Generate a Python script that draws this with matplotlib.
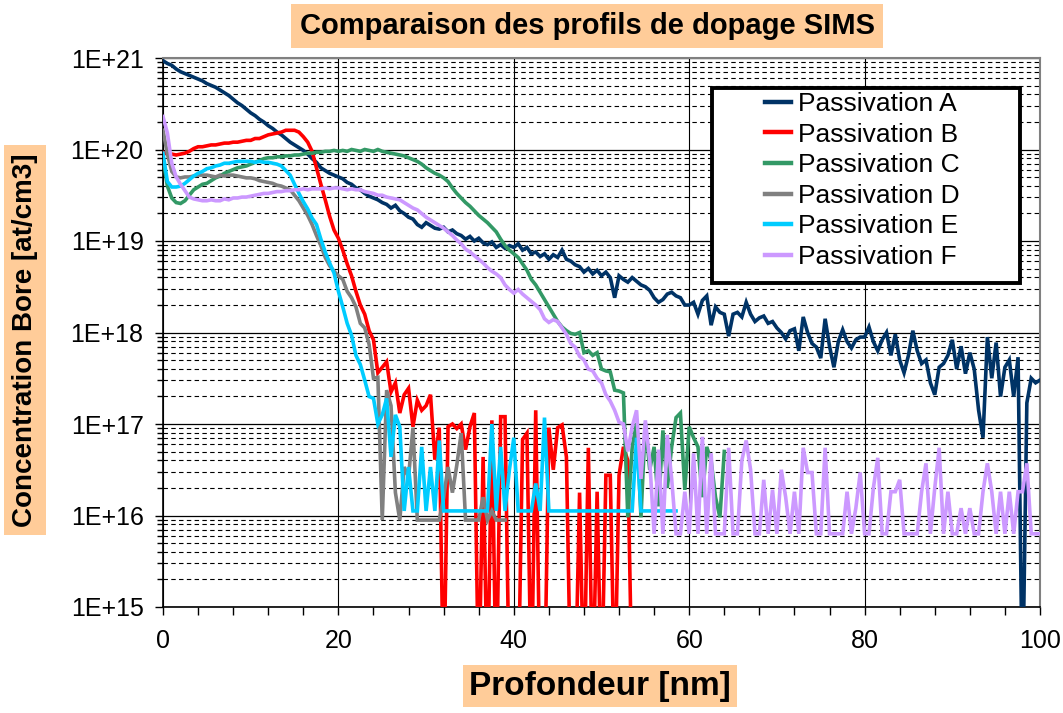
import numpy as np
import matplotlib
matplotlib.use("Agg")
import matplotlib.pyplot as plt
from matplotlib.patches import Rectangle
from matplotlib.ticker import LogLocator, FuncFormatter, MultipleLocator, NullFormatter

plt.rcParams['font.family'] = ['Liberation Sans', 'DejaVu Sans']

# depth step of the SIMS profiles (nm)
DEPTH_STEP = 0.5

LABELS = ["Passivation A", "Passivation B", "Passivation C",
          "Passivation D", "Passivation E", "Passivation F"]
COLORS = ["#003366", "#FF0000", "#339966", "#808080", "#00CCFF", "#CC99FF"]

# log10 of boron concentration [at/cm3], one value per 0.5 nm
# (14.0 = zero count, drawn below the axis floor)
LOG_A = [
    20.97, 20.94, 20.92, 20.88, 20.85, 20.83, 20.81, 20.79, 20.77, 20.75,
    20.72, 20.70, 20.68, 20.65, 20.62, 20.59, 20.55, 20.51, 20.48, 20.44,
    20.40, 20.37, 20.33, 20.30, 20.26, 20.23, 20.19, 20.16, 20.12, 20.08,
    20.05, 20.02, 19.99, 19.95, 19.90, 19.86, 19.80, 19.77, 19.74, 19.72,
    19.70, 19.68, 19.64, 19.62, 19.58, 19.56, 19.52, 19.49, 19.47, 19.45,
    19.42, 19.40, 19.36, 19.39, 19.33, 19.30, 19.26, 19.24, 19.18, 19.15,
    19.20, 19.17, 19.14, 19.13, 19.15, 19.10, 19.12, 19.08, 19.06, 19.02,
    19.05, 19.00, 19.03, 18.98, 18.96, 18.99, 18.93, 18.96, 18.92, 18.95,
    18.93, 18.97, 18.90, 18.93, 18.86, 18.88, 18.83, 18.86, 18.80, 18.85,
    18.82, 18.90, 18.80, 18.78, 18.74, 18.72, 18.66, 18.70, 18.64, 18.68,
    18.62, 18.66, 18.60, 18.38, 18.62, 18.58, 18.55, 18.60, 18.56, 18.52,
    18.50, 18.46, 18.38, 18.33, 18.36, 18.42, 18.44, 18.40, 18.38, 18.30,
    18.30, 18.33, 18.20, 18.35, 18.40, 18.08, 18.28, 18.22, 18.20, 17.96,
    18.20, 18.22, 18.17, 18.33, 18.20, 18.12, 18.16, 18.18, 18.10, 18.12,
    18.05, 18.00, 17.93, 18.02, 18.04, 17.80, 18.17, 18.00, 17.88, 17.84,
    17.72, 18.15, 17.85, 17.62, 17.90, 18.03, 17.90, 17.83, 17.92, 17.95,
    17.95, 18.06, 17.90, 17.80, 17.92, 18.00, 17.75, 17.98, 17.70, 17.56,
    17.75, 18.02, 17.80, 17.66, 17.70, 17.45, 17.32, 17.62, 17.66, 17.75,
    17.92, 17.60, 17.85, 17.55, 17.78, 17.60, 17.15, 16.85, 17.95, 17.50,
    17.89, 17.30, 17.62, 17.70, 17.30, 17.73, 14.00, 17.23, 17.50, 17.45,
    17.48,
]
LOG_B = [
    19.97, 19.95, 19.95, 19.94, 19.95, 19.96, 19.98, 20.01, 20.03, 20.03,
    20.04, 20.05, 20.05, 20.06, 20.07, 20.07, 20.08, 20.08, 20.09, 20.10,
    20.10, 20.12, 20.12, 20.14, 20.16, 20.17, 20.18, 20.19, 20.21, 20.21,
    20.21, 20.19, 20.14, 20.08, 19.98, 19.80, 19.62, 19.45, 19.27, 19.12,
    19.03, 18.90, 18.75, 18.62, 18.45, 18.30, 18.20, 18.02, 17.92, 17.56,
    17.62, 17.68, 17.35, 17.45, 17.12, 17.32, 17.39, 16.97, 17.26, 17.15,
    17.20, 17.32, 16.61, 16.96, 14.00, 16.97, 17.00, 16.95, 17.00, 16.72,
    16.97, 17.12, 14.00, 16.64, 14.00, 17.04, 14.00, 17.08, 17.08, 14.00,
    14.00, 14.00, 16.83, 16.90, 14.00, 17.15, 14.00, 14.00, 16.96, 16.50,
    16.96, 16.99, 16.64, 14.00, 14.00, 16.25, 14.00, 16.74, 14.00, 16.26,
    14.00, 16.44, 16.44, 14.00, 16.44, 16.75, 16.60, 14.00,
]
LOG_C = [
    19.90, 19.60, 19.47, 19.42, 19.41, 19.44, 19.50, 19.56, 19.59, 19.62,
    19.63, 19.66, 19.69, 19.71, 19.74, 19.76, 19.78, 19.80, 19.81, 19.82,
    19.84, 19.86, 19.88, 19.90, 19.91, 19.91, 19.92, 19.92, 19.93, 19.93,
    19.94, 19.94, 19.95, 19.96, 19.96, 19.97, 19.97, 19.98, 19.98, 19.99,
    19.98, 19.99, 19.98, 20.00, 19.99, 19.98, 20.00, 19.99, 19.98, 20.00,
    19.98, 19.97, 19.96, 19.95, 19.94, 19.93, 19.91, 19.89, 19.87, 19.84,
    19.80, 19.77, 19.74, 19.72, 19.69, 19.65, 19.58, 19.52, 19.47, 19.42,
    19.38, 19.33, 19.28, 19.24, 19.20, 19.15, 19.10, 19.02, 18.95, 18.90,
    18.86, 18.82, 18.75, 18.68, 18.58, 18.52, 18.44, 18.36, 18.28, 18.20,
    18.12, 18.06, 18.02, 17.99, 17.98, 18.00, 17.78, 17.80, 17.75, 17.78,
    17.60, 17.58, 17.57, 17.37, 17.36, 17.34, 15.98, 16.75, 17.01, 15.98,
    17.01, 16.50, 16.75, 16.10, 16.93, 16.30, 16.75, 17.07, 17.12, 16.28,
    16.97, 16.85, 16.75, 16.20, 16.75, 16.60, 16.20, 15.98, 16.70,
]
LOG_D = [
    20.21, 19.95, 19.76, 19.70, 19.69, 19.70, 19.70, 19.71, 19.72, 19.72,
    19.72, 19.71, 19.70, 19.72, 19.71, 19.72, 19.72, 19.71, 19.70, 19.69,
    19.69, 19.68, 19.66, 19.65, 19.64, 19.63, 19.61, 19.60, 19.58, 19.56,
    19.50, 19.44, 19.36, 19.28, 19.18, 19.06, 18.95, 18.82, 18.73, 18.67,
    18.62, 18.58, 18.45, 18.38, 18.28, 18.10, 18.05, 17.87, 17.50, 17.51,
    15.95, 17.37, 17.20, 16.25, 15.95, 16.53, 16.42, 16.96, 15.95, 15.95,
    15.95, 15.95, 15.95, 15.95, 16.20, 16.53, 16.25, 16.55, 16.90, 15.95,
    15.95, 15.95, 15.95, 16.20, 15.95, 16.05, 15.95, 15.95, 15.95,
]
LOG_E = [
    19.96, 19.65, 19.59, 19.59, 19.60, 19.63, 19.67, 19.71, 19.74, 19.76,
    19.79, 19.80, 19.82, 19.83, 19.85, 19.85, 19.86, 19.87, 19.87, 19.87,
    19.87, 19.86, 19.87, 19.86, 19.86, 19.85, 19.84, 19.82, 19.77, 19.72,
    19.62, 19.52, 19.43, 19.35, 19.25, 19.18, 19.02, 18.88, 18.76, 18.65,
    18.45, 18.28, 18.10, 17.97, 17.75, 17.65, 17.48, 17.30, 17.28, 17.00,
    17.10, 17.28, 16.64, 17.10, 16.97, 16.05, 16.53, 16.05, 16.05, 16.75,
    16.05, 16.53, 16.05, 16.82, 16.05, 16.05, 16.05, 16.05, 16.05, 16.05,
    16.05, 16.05, 16.05, 16.05, 16.05, 17.00, 16.05, 16.75, 16.05, 16.50,
    16.85, 16.05, 16.05, 16.05, 16.05, 16.35, 16.05, 17.07, 16.05, 16.05,
    16.05, 16.05, 16.05, 16.05, 16.05, 16.05, 16.05, 16.05, 16.05, 16.05,
    16.05, 16.05, 16.05, 16.05, 16.05, 16.05, 16.05, 16.05, 16.85, 16.05,
    16.05, 16.05, 16.05, 16.05, 16.05, 16.05, 16.05, 16.05,
]
LOG_F = [
    20.36, 20.18, 19.85, 19.70, 19.62, 19.55, 19.48, 19.46, 19.45, 19.44,
    19.44, 19.45, 19.44, 19.44, 19.46, 19.45, 19.47, 19.47, 19.48, 19.48,
    19.49, 19.50, 19.51, 19.52, 19.52, 19.53, 19.54, 19.54, 19.55, 19.55,
    19.56, 19.56, 19.57, 19.56, 19.57, 19.57, 19.57, 19.58, 19.57, 19.58,
    19.58, 19.57, 19.56, 19.57, 19.56, 19.56, 19.54, 19.53, 19.52, 19.50,
    19.50, 19.48, 19.47, 19.46, 19.45, 19.42, 19.39, 19.36, 19.34, 19.30,
    19.26, 19.23, 19.20, 19.17, 19.14, 19.10, 19.06, 19.01, 18.97, 18.91,
    18.88, 18.84, 18.80, 18.76, 18.71, 18.67, 18.64, 18.60, 18.52, 18.47,
    18.43, 18.47, 18.42, 18.38, 18.34, 18.30, 18.25, 18.15, 18.11, 18.14,
    18.12, 18.05, 17.98, 17.88, 17.84, 17.74, 17.70, 17.60, 17.58, 17.50,
    17.45, 17.32, 17.25, 17.15, 17.02, 17.00, 16.70, 16.97, 17.15, 16.40,
    17.04, 16.60, 15.80, 16.72, 15.80, 16.88, 16.40, 15.80, 15.80, 16.26,
    15.80, 16.68, 15.80, 16.86, 15.80, 16.68, 15.80, 15.80, 15.80, 16.74,
    15.80, 15.80, 16.60, 16.82, 16.50, 15.80, 15.80, 16.39, 15.80, 16.28,
    15.80, 16.50, 16.20, 15.80, 16.26, 15.80, 16.74, 16.47, 16.47, 15.80,
    15.80, 16.74, 15.80, 15.80, 15.80, 15.80, 16.26, 15.80, 16.08, 16.47,
    15.80, 15.80, 16.30, 16.63, 15.80, 15.80, 16.26, 16.26, 16.39, 15.80,
    15.80, 15.80, 15.80, 16.26, 16.57, 15.80, 16.30, 16.74, 15.80, 16.26,
    15.80, 15.80, 16.08, 15.80, 16.08, 15.80, 15.80, 16.26, 16.57, 16.26,
    15.80, 16.26, 15.80, 16.26, 15.80, 16.26, 16.26, 16.57, 15.80, 15.80,
    15.80,
]
SERIES = [LOG_A, LOG_B, LOG_C, LOG_D, LOG_E, LOG_F]

X_TICKS = [0, 20, 40, 60, 80, 100]

W, H = 1063, 713
fig = plt.figure(figsize=(W / 100, H / 100), dpi=100)
ax = fig.add_axes([163 / W, 1 - 607 / H, 877 / W, 549 / H])

for logs, col, lab in zip(SERIES, COLORS, LABELS):
    depth = np.arange(len(logs)) * DEPTH_STEP
    ax.plot(depth, 10.0 ** np.array(logs), color=col, lw=2.6, label=lab,
            solid_joinstyle="miter", zorder=3)

ax.set_yscale("log")
ax.set_xlim(0, 100)
ax.set_ylim(1e15, 1e21)

ax.yaxis.set_major_locator(LogLocator(base=10, numticks=10))
ax.yaxis.set_minor_locator(LogLocator(base=10, subs=np.arange(2, 10), numticks=20))
ax.yaxis.set_major_formatter(FuncFormatter(lambda v, _: f"1E+{int(round(np.log10(v)))}"))
ax.yaxis.set_minor_formatter(NullFormatter())
ax.set_xticks(X_TICKS)
ax.xaxis.set_minor_locator(MultipleLocator(4))

ax.grid(which="major", axis="y", color="black", lw=0.9, ls="-")
ax.grid(which="minor", axis="y", color="black", lw=0.8, ls=(0, (4, 3)))
ax.grid(which="major", axis="x", color="black", lw=0.8, ls="-")
ax.set_axisbelow(True)

ax.tick_params(axis="y", which="major", direction="out", length=6, width=1,
               labelsize=18, pad=8)
ax.tick_params(axis="y", which="minor", direction="out", length=4, width=1)
ax.tick_params(axis="x", which="both", direction="out", length=6, width=1,
               labelsize=18, pad=10)
for side in ("left", "bottom"):
    ax.spines[side].set_linewidth(1.2)
for side in ("top", "right"):
    ax.spines[side].set_color("#808080")
    ax.spines[side].set_linewidth(1.5)

# legend: white box with heavy border, entries placed inside
box = Rectangle((712 / W, 1 - 283 / H), 308 / W, 195 / H, transform=fig.transFigure,
                facecolor="white", edgecolor="black", lw=2.8, zorder=4, clip_on=False)
ax.add_patch(box)
leg = ax.legend(loc="upper left", bbox_to_anchor=(765 / W, 1 - 92 / H),
                bbox_transform=fig.transFigure, frameon=False, fontsize=19,
                handlelength=1.0, handletextpad=0.25, labelspacing=0.25,
                borderpad=0, borderaxespad=0)
leg.set_zorder(5)
for ln in leg.get_lines():
    ln.set_linewidth(3.2)

orange = dict(facecolor="#FFCC99", edgecolor="none", pad=6)
fig.text(587 / W, 1 - 26 / H, "Comparaison des profils de dopage SIMS",
         ha="center", va="center", fontsize=21, fontweight="bold", bbox=orange)
fig.text(25 / W, 1 - 340 / H, "Concentration Bore [at/cm3]", rotation=90,
         ha="center", va="center", fontsize=20, fontweight="bold", bbox=orange)
fig.text(600 / W, 1 - 686 / H, "Profondeur [nm]", ha="center", va="center",
         fontsize=24, fontweight="bold",
         bbox=dict(facecolor="#FFCC99", edgecolor="none", pad=4))

fig.savefig("out.png", dpi=100)
